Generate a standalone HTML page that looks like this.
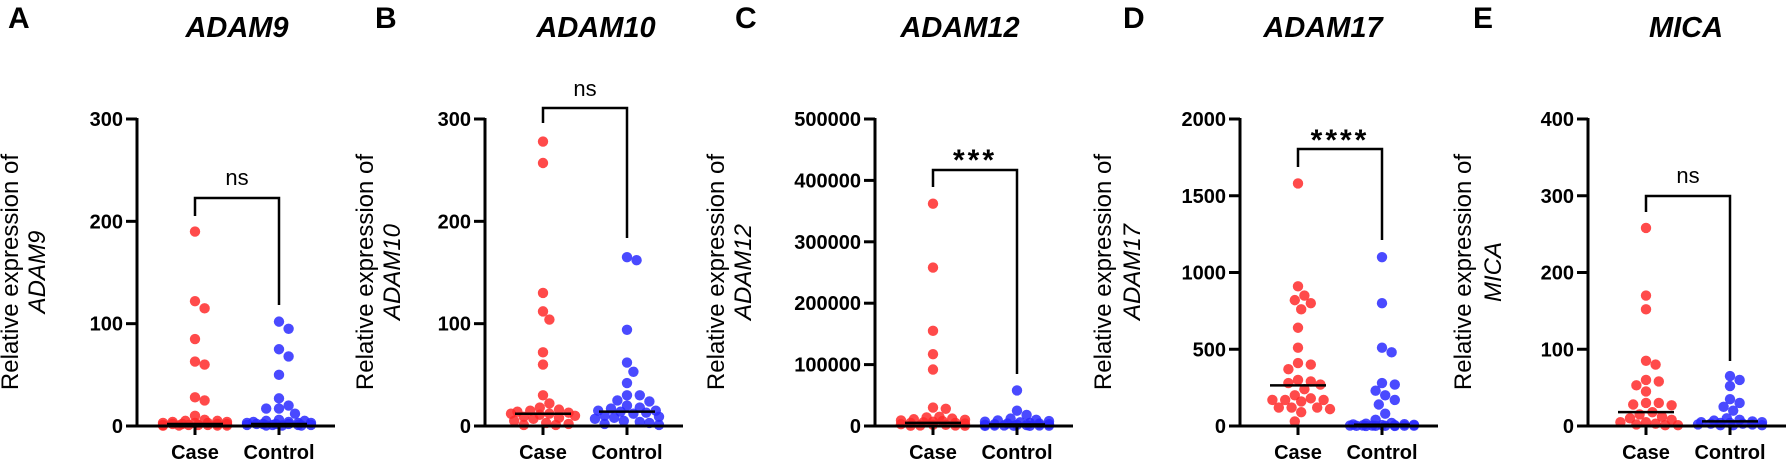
<!DOCTYPE html>
<html><head><meta charset="utf-8"><style>
html,body{margin:0;padding:0;background:#fff;}
svg{display:block;font-family:"Liberation Sans",Arial,sans-serif;}
</style></head><body>
<svg id="s" width="1790" height="461" viewBox="0 0 1790 461" xmlns="http://www.w3.org/2000/svg">
<g font-weight="bold" font-size="30">
<text x="8" y="28">A</text><text x="375" y="28">B</text><text x="735" y="28">C</text><text x="1123" y="28">D</text><text x="1473" y="28">E</text>
</g>
<g font-weight="bold" font-style="italic" font-size="29" text-anchor="middle">
<text x="237" y="37">ADAM9</text><text x="596" y="37">ADAM10</text><text x="960" y="37">ADAM12</text><text x="1323" y="37">ADAM17</text><text x="1686" y="37">MICA</text>
</g>
</svg>
<script>
var NS="http://www.w3.org/2000/svg",S=document.getElementById('s');
function el(t,a,txt){var e=document.createElementNS(NS,t);for(var k in a)e.setAttribute(k,a[k]);if(txt!==undefined)e.textContent=txt;S.appendChild(e);return e;}
var Y0=426,Y1=119;
var panels=[
{ax:137,max:300,ticks:[0,100,200,300],lab:"ADAM9",l1:10,l2:37,
 br:[198,216,305],sig:"ns",sy:185,
 c:[190,122,115,85,63,60,28,25,10,6,5,5,4,4,3,3,3,2,2,2,2,1,1,1,1,0.5,0.5,0.5,0.3],cm:2,
 k:[102,95,75,68,50,27,20,17,17,12,6,5,5,4,4,3,3,3,2,2,2,2,1,1,1,1,0.5,0.5,0.5],km:2},
{ax:485,max:300,ticks:[0,100,200,300],lab:"ADAM10",l1:365,l2:392,
 br:[108,123,238],sig:"ns",sy:96,
 c:[278,257,130,112,104,72,60,30,22,18,16,15,14,13,12,12,11,10,9,8,7,5,3,2,1,1],cm:12,
 k:[165,162,94,62,53,42,30,30,25,24,20,18,17,15,15,14,13,12,10,9,8,7,5,4,3,2,1],km:14},
{ax:875,max:500000,ticks:[0,100000,200000,300000,400000,500000],lab:"ADAM12",l1:716,l2:743,
 br:[170,187,374],sig:"***",sy:170,
 c:[362000,258000,155000,117000,92000,30000,28000,15000,14000,12000,11000,10000,9000,8000,7000,6000,5000,5000,4000,3000,2000,2000,1000,1000,500,500],cm:5000,
 k:[58000,25000,18000,12000,10000,9000,8000,7000,6000,5000,4000,4000,3000,3000,2000,2000,1500,1000,1000,800,500,500,300,200],km:2500},
{ax:1240,max:2000,ticks:[0,500,1000,1500,2000],lab:"ADAM17",l1:1103,l2:1132,
 br:[149,167,240],sig:"****",sy:150,
 c:[1580,910,850,800,820,760,640,510,410,400,370,300,290,280,270,240,200,180,170,170,170,160,120,120,120,110,90,30],cm:265,
 k:[1100,800,510,480,280,270,230,200,170,140,80,40,20,15,12,10,8,6,5,4,3,3,2,2,1,1,1,0.5,0.5],km:8},
{ax:1588,max:400,ticks:[0,100,200,300,400],lab:"MICA",l1:1463,l2:1493,
 br:[196,212,361],sig:"ns",sy:183,
 c:[258,170,152,85,80,60,58,53,45,30,30,28,27,18,15,12,10,8,5,5,3,2,1,1],cm:18,
 k:[65,60,52,35,30,25,20,10,8,7,6,5,5,4,4,3,3,2,2,1,1,1],km:6}
];
function swarm(cx,vals,p,col){
  var r=5.2,placed=[],MAX=32;
  var ys=vals.map(function(v){return Y0-v/p.max*(Y0-Y1);}).sort(function(a,b){return a-b;});
  ys.forEach(function(y){
    var best=null,bestCost=1e9;
    for(var i=0;i<40;i++){
      var off=(i%2?1:-1)*Math.ceil(i/2)*3.2;
      if(Math.abs(off)>MAX)break;
      var x=cx+off,cost=0;
      for(var j=0;j<placed.length;j++){var dx=placed[j][0]-x,dy=placed[j][1]-y,d=Math.sqrt(dx*dx+dy*dy);if(d<2*r*0.95)cost+=(2*r*0.95-d);}
      if(cost===0){best=x;bestCost=0;break;}
      if(cost<bestCost){bestCost=cost;best=x;}
    }
    placed.push([best,y]);
  });
  placed.forEach(function(q){el('circle',{cx:q[0],cy:q[1],r:r,fill:col,'fill-opacity':0.85});});
}
panels.forEach(function(p){
  var a=p.ax,cx=a+58,kx=a+142;
  swarm(cx,p.c,p,'#ff2a2a');
  swarm(kx,p.k,p,'#2a2aff');
  var my=Y0-p.cm/p.max*(Y0-Y1);el('line',{x1:cx-28,x2:cx+28,y1:my,y2:my,stroke:'#000','stroke-width':2.5});
  my=Y0-p.km/p.max*(Y0-Y1);el('line',{x1:kx-28,x2:kx+28,y1:my,y2:my,stroke:'#000','stroke-width':2.5});
  el('line',{x1:a,x2:a,y1:Y1-1,y2:Y0+1.5,stroke:'#000','stroke-width':3});
  el('line',{x1:a-1.5,x2:a+198,y1:Y0,y2:Y0,stroke:'#000','stroke-width':3});
  p.ticks.forEach(function(t){var y=Y0-t/p.max*(Y0-Y1);
    el('line',{x1:a-11,x2:a,y1:y,y2:y,stroke:'#000','stroke-width':3});
    el('text',{x:a-14,y:y+7,'text-anchor':'end','font-size':20,'font-weight':'bold'},String(t));});
  [cx,kx].forEach(function(x){el('line',{x1:x,x2:x,y1:Y0,y2:Y0+9,stroke:'#000','stroke-width':3});});
  el('text',{x:cx,y:459,'text-anchor':'middle','font-size':20,'font-weight':'bold'},'Case');
  el('text',{x:kx,y:459,'text-anchor':'middle','font-size':20,'font-weight':'bold'},'Control');
  el('polyline',{points:cx+','+p.br[1]+' '+cx+','+p.br[0]+' '+kx+','+p.br[0]+' '+kx+','+p.br[2],fill:'none',stroke:'#000','stroke-width':2.5});
  if(p.sig=='ns') el('text',{x:(cx+kx)/2,y:p.sy,'text-anchor':'middle','font-size':22},'ns');
  else el('text',{x:(cx+kx)/2,y:p.sy,'text-anchor':'middle','font-size':30,'font-weight':'bold','letter-spacing':3},p.sig);
  var g=el('g',{transform:'translate('+p.l1+',272) rotate(-90)'});
  var t1=document.createElementNS(NS,'text');t1.setAttribute('text-anchor','middle');t1.setAttribute('font-size','24');t1.setAttribute('y','8');t1.textContent='Relative expression of';g.appendChild(t1);
  var t2=document.createElementNS(NS,'text');t2.setAttribute('text-anchor','middle');t2.setAttribute('font-size','24');t2.setAttribute('font-style','italic');t2.setAttribute('y',String(8+p.l2-p.l1));t2.textContent=p.lab;g.appendChild(t2);
});
</script>
</body></html>
